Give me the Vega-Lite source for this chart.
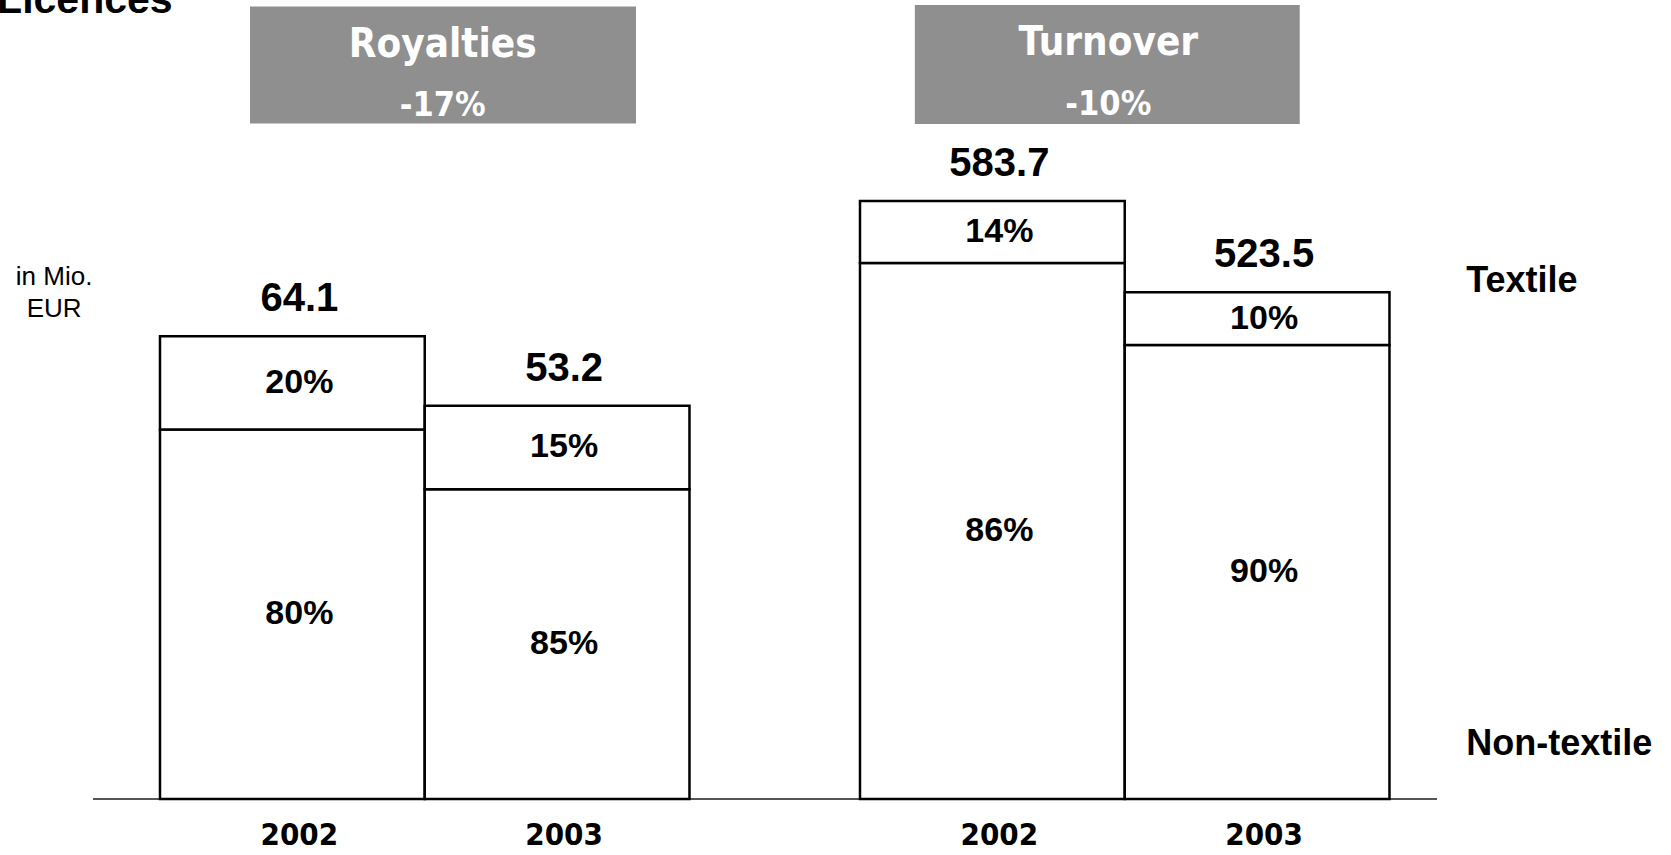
{
  "$schema": "https://vega.github.io/schema/vega-lite/v6.json",
  "width": 1344,
  "height": 799,
  "autosize": {"type": "none"},
  "padding": {"left": 93, "top": 0, "right": 234, "bottom": 56},
  "background": "white",
  "config": {"view": {"stroke": null}, "text": {"font": "Liberation Sans"}},
  "data": {
    "values": [
      {"group": "Royalties", "year": "2002", "segment": "Non-textile", "value": 51.2, "share": "80%", "total": "64.1"},
      {"group": "Royalties", "year": "2002", "segment": "Textile", "value": 12.9, "share": "20%", "total": "64.1"},
      {"group": "Royalties", "year": "2003", "segment": "Non-textile", "value": 42.9, "share": "85%", "total": "53.2"},
      {"group": "Royalties", "year": "2003", "segment": "Textile", "value": 11.6, "share": "15%", "total": "53.2"},
      {"group": "Turnover", "year": "2002", "segment": "Non-textile", "value": 523.2, "share": "86%", "total": "583.7"},
      {"group": "Turnover", "year": "2002", "segment": "Textile", "value": 60.5, "share": "14%", "total": "583.7"},
      {"group": "Turnover", "year": "2003", "segment": "Non-textile", "value": 443.1, "share": "90%", "total": "523.5"},
      {"group": "Turnover", "year": "2003", "segment": "Textile", "value": 51.7, "share": "10%", "total": "523.5"}
    ]
  },
  "layer": [
    {
      "transform": [{"filter": "datum.group === 'Royalties'"}],
      "layer": [
        {
          "data": {"values": [{}]},
          "mark": {"type": "rule", "color": "#555555", "strokeWidth": 2},
          "encoding": {"y": {"datum": 0, "type": "quantitative", "scale": {"domain": [0, 110.7], "nice": false, "zero": false}, "axis": null}}
        },
        {
          "mark": {"type": "bar", "fill": "white", "stroke": "black", "strokeWidth": 2.5},
          "encoding": {
            "x": {"field": "group", "type": "nominal", "scale": {"domain": ["Royalties", "Turnover"], "paddingInner": 0.2436, "paddingOuter": 0.0818, "align": 0.585}, "axis": null},
            "xOffset": {"field": "year", "type": "nominal", "scale": {"paddingInner": 0, "paddingOuter": 0}},
            "y": {"field": "value", "type": "quantitative", "stack": "zero", "axis": null},
            "order": {"field": "segment", "sort": "ascending"}
          }
        },
        {
          "transform": [
            {"stack": "value", "groupby": ["group", "year"], "sort": [{"field": "segment", "order": "ascending"}], "as": ["v0", "v1"]},
            {"calculate": "(datum.v0 + datum.v1) / 2", "as": "mid"}
          ],
          "mark": {"type": "text", "fontSize": 34, "fontWeight": "bold", "baseline": "middle", "color": "black", "dx": 7},
          "encoding": {
            "x": {"field": "group", "type": "nominal"},
            "xOffset": {"field": "year", "type": "nominal"},
            "y": {"field": "mid", "type": "quantitative"},
            "text": {"field": "share"}
          }
        },
        {
          "mark": {"type": "text", "fontSize": 40, "fontWeight": "bold", "baseline": "middle", "dy": -37, "dx": 7, "color": "black"},
          "encoding": {
            "x": {"field": "group", "type": "nominal"},
            "xOffset": {"field": "year", "type": "nominal"},
            "y": {"aggregate": "sum", "field": "value", "type": "quantitative"},
            "text": {"field": "total"}
          }
        },
        {
          "transform": [{"filter": "datum.segment === 'Textile'"}],
          "mark": {"type": "text", "font": "DejaVu Sans Condensed, Liberation Sans", "fontSize": 31, "fontWeight": "bold", "baseline": "middle", "dy": 37, "dx": 7, "color": "black"},
          "encoding": {
            "x": {"field": "group", "type": "nominal"},
            "xOffset": {"field": "year", "type": "nominal"},
            "y": {"datum": 0, "type": "quantitative"},
            "text": {"field": "year"}
          }
        },
        {
          "data": {"values": [{}]},
          "mark": {"type": "rect", "color": "#8f8f8f"},
          "encoding": {
            "x": {"datum": "Royalties", "bandPosition": 0.17},
            "x2": {"datum": "Royalties", "bandPosition": 0.899},
            "y": {"datum": 109.8, "type": "quantitative"},
            "y2": {"datum": 93.6}
          }
        },
        {
          "data": {"values": [{}]},
          "mark": {"type": "text", "text": "Royalties", "font": "DejaVu Sans Condensed, Liberation Sans", "fontSize": 40, "fontWeight": "bold", "color": "white", "baseline": "middle"},
          "encoding": {"x": {"datum": "Royalties", "bandPosition": 0.534}, "y": {"datum": 104.5, "type": "quantitative"}}
        },
        {
          "data": {"values": [{}]},
          "mark": {"type": "text", "text": "-17%", "font": "DejaVu Sans Condensed, Liberation Sans", "fontSize": 34, "fontWeight": "bold", "color": "white", "baseline": "middle"},
          "encoding": {"x": {"datum": "Royalties", "bandPosition": 0.534}, "y": {"datum": 96.06, "type": "quantitative"}}
        },
        {
          "data": {"values": [{}]},
          "mark": {"type": "text", "text": ["in Mio.", "EUR"], "fontSize": 26, "lineHeight": 32, "color": "black", "baseline": "middle", "align": "center"},
          "encoding": {"x": {"datum": "Royalties", "bandPosition": -0.2}, "y": {"datum": 72.3, "type": "quantitative"}}
        },
        {
          "data": {"values": [{}]},
          "mark": {"type": "text", "text": "Licences", "fontSize": 41, "fontWeight": "bold", "color": "black", "baseline": "alphabetic", "align": "left", "dx": -3},
          "encoding": {"x": {"datum": "Royalties", "bandPosition": -0.302}, "y": {"datum": 108.9, "type": "quantitative"}}
        }
      ]
    },
    {
      "transform": [{"filter": "datum.group === 'Turnover'"}],
      "layer": [
        {
          "mark": {"type": "bar", "fill": "white", "stroke": "black", "strokeWidth": 2.5},
          "encoding": {
            "x": {"field": "group", "type": "nominal"},
            "xOffset": {"field": "year", "type": "nominal"},
            "y": {"field": "value", "type": "quantitative", "stack": "zero", "scale": {"domain": [0, 780], "nice": false, "zero": false}, "axis": null},
            "order": {"field": "segment", "sort": "ascending"}
          }
        },
        {
          "transform": [
            {"stack": "value", "groupby": ["group", "year"], "sort": [{"field": "segment", "order": "ascending"}], "as": ["v0", "v1"]},
            {"calculate": "(datum.v0 + datum.v1) / 2", "as": "mid"}
          ],
          "mark": {"type": "text", "fontSize": 34, "fontWeight": "bold", "baseline": "middle", "color": "black", "dx": 7},
          "encoding": {
            "x": {"field": "group", "type": "nominal"},
            "xOffset": {"field": "year", "type": "nominal"},
            "y": {"field": "mid", "type": "quantitative"},
            "text": {"field": "share"}
          }
        },
        {
          "mark": {"type": "text", "fontSize": 40, "fontWeight": "bold", "baseline": "middle", "dy": -37, "dx": 7, "color": "black"},
          "encoding": {
            "x": {"field": "group", "type": "nominal"},
            "xOffset": {"field": "year", "type": "nominal"},
            "y": {"aggregate": "sum", "field": "value", "type": "quantitative"},
            "text": {"field": "total"}
          }
        },
        {
          "transform": [{"filter": "datum.segment === 'Textile'"}],
          "mark": {"type": "text", "font": "DejaVu Sans Condensed, Liberation Sans", "fontSize": 31, "fontWeight": "bold", "baseline": "middle", "dy": 37, "dx": 7, "color": "black"},
          "encoding": {
            "x": {"field": "group", "type": "nominal"},
            "xOffset": {"field": "year", "type": "nominal"},
            "y": {"datum": 0, "type": "quantitative"},
            "text": {"field": "year"}
          }
        },
        {
          "data": {"values": [{}]},
          "mark": {"type": "rect", "color": "#8f8f8f"},
          "encoding": {
            "x": {"datum": "Turnover", "bandPosition": 0.1036},
            "x2": {"datum": "Turnover", "bandPosition": 0.8305},
            "y": {"datum": 775, "type": "quantitative"},
            "y2": {"datum": 658.9}
          }
        },
        {
          "data": {"values": [{}]},
          "mark": {"type": "text", "text": "Turnover", "font": "DejaVu Sans Condensed, Liberation Sans", "fontSize": 40, "fontWeight": "bold", "color": "white", "baseline": "middle"},
          "encoding": {"x": {"datum": "Turnover", "bandPosition": 0.469}, "y": {"datum": 738, "type": "quantitative"}}
        },
        {
          "data": {"values": [{}]},
          "mark": {"type": "text", "text": "-10%", "font": "DejaVu Sans Condensed, Liberation Sans", "fontSize": 34, "fontWeight": "bold", "color": "white", "baseline": "middle"},
          "encoding": {"x": {"datum": "Turnover", "bandPosition": 0.469}, "y": {"datum": 677.9, "type": "quantitative"}}
        },
        {
          "data": {"values": [{}]},
          "mark": {"type": "text", "text": "Textile", "fontSize": 36, "fontWeight": "bold", "color": "black", "baseline": "middle", "align": "left"},
          "encoding": {"x": {"datum": "Turnover", "bandPosition": 1.145}, "y": {"datum": 505.5, "type": "quantitative"}}
        },
        {
          "data": {"values": [{}]},
          "mark": {"type": "text", "text": "Non-textile", "fontSize": 36, "fontWeight": "bold", "color": "black", "baseline": "middle", "align": "left"},
          "encoding": {"x": {"datum": "Turnover", "bandPosition": 1.145}, "y": {"datum": 53.6, "type": "quantitative"}}
        }
      ]
    }
  ],
  "resolve": {"scale": {"y": "independent"}}
}
